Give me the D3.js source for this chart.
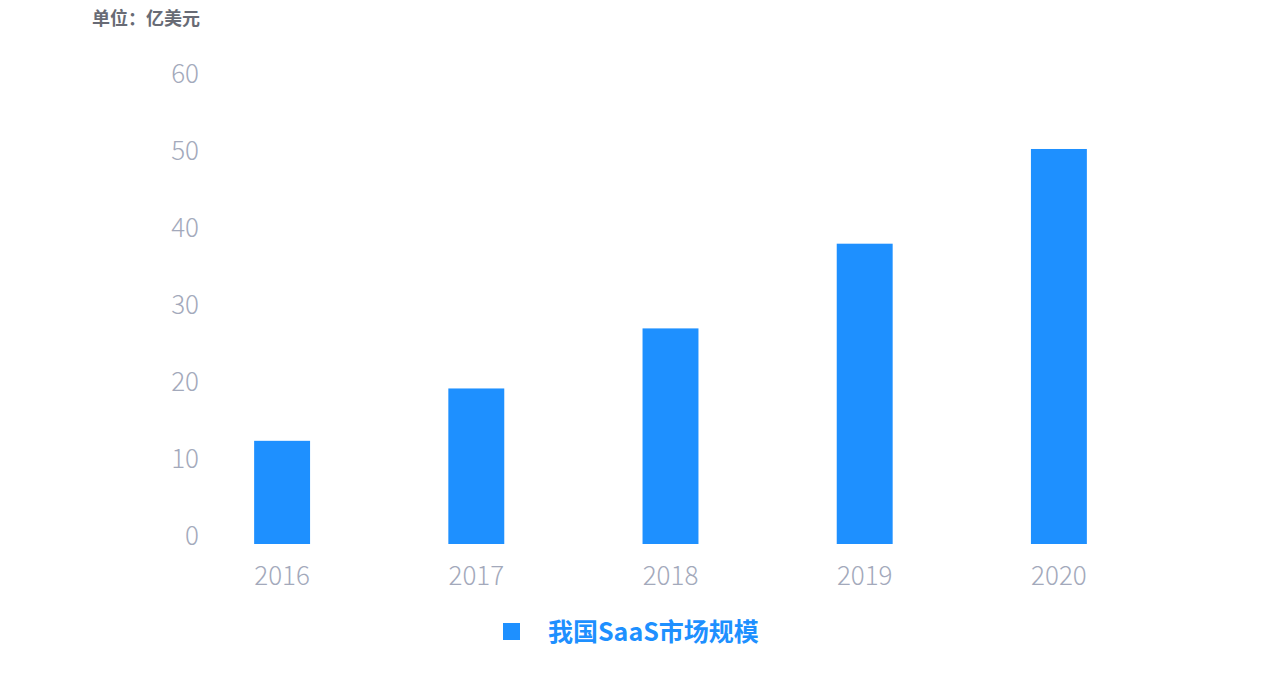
<!DOCTYPE html>
<html>
<head>
<meta charset="utf-8">
<script src="https://cdn.jsdelivr.net/npm/d3@7"></script>
<style>
  body { margin: 0; background: #fff; }
  svg { display: block; font-family: "Noto Sans CJK SC", "Noto Sans", sans-serif; }
</style>
</head>
<body>
<svg width="1265" height="689"></svg>
<script>
const years = ["2016", "2017", "2018", "2019", "2020"];
const marketSize = [13.4, 20.2, 28.0, 39.0, 51.3];
const yTicks = [0, 10, 20, 30, 40, 50, 60];
const unitLabel = "单位：亿美元";
const seriesName = "我国SaaS市场规模";

const svg = d3.select("svg");
const width = 1265;
const margin = {top: 82, bottom: 145, left: 185, right: 109};
const height = 689;
const barColor = "#1e90ff";
const tickColor = "#a3a9bb";

const data = years.map((y, i) => ({year: y, value: marketSize[i]}));

const xScale = d3.scaleBand()
    .domain(years)
    .range([margin.left, width - margin.right])
    .paddingInner(0.712)
    .paddingOuter(0.356);

const yScale = d3.scaleLinear()
    .domain([0, 60])
    .range([height - margin.bottom, margin.top]);

// unit label
svg.append("text")
    .attr("x", 92)
    .attr("y", 25)
    .attr("font-size", 18)
    .attr("font-weight", 700)
    .attr("fill", "#686b75")
    .text(unitLabel);

// bars
svg.selectAll(".bar")
    .data(data)
    .join("rect")
    .attr("class", "bar")
    .attr("x", d => xScale(d.year))
    .attr("y", d => yScale(d.value))
    .attr("width", xScale.bandwidth())
    .attr("height", d => yScale(0) - yScale(d.value))
    .attr("fill", barColor);

// y axis (labels only, text baseline sits on the tick)
const yAxis = svg.append("g")
    .attr("transform", `translate(199,0)`)
    .call(d3.axisLeft(yScale).tickValues(yTicks).tickSize(0).tickPadding(0));
yAxis.select(".domain").remove();
yAxis.selectAll("text")
    .attr("dy", 0)
    .attr("font-size", 26)
    .attr("font-weight", 300)
    .attr("font-family", "\"Noto Sans CJK SC\", sans-serif")
    .attr("fill", tickColor);

// x axis
const xAxis = svg.append("g")
    .attr("transform", `translate(0,${yScale(0)})`)
    .call(d3.axisBottom(xScale).tickSize(0).tickPadding(0));
xAxis.select(".domain").remove();
xAxis.selectAll("text")
    .attr("dy", 0)
    .attr("y", 41)
    .attr("font-size", 26)
    .attr("font-weight", 300)
    .attr("font-family", "\"Noto Sans CJK SC\", sans-serif")
    .attr("fill", tickColor);

// legend
const legend = svg.append("g").attr("transform", "translate(503,623)");
legend.append("rect")
    .attr("width", 17)
    .attr("height", 17)
    .attr("fill", barColor);
legend.append("text")
    .attr("x", 45)
    .attr("y", 18)
    .attr("font-size", 25)
    .attr("font-weight", 700)
    .attr("fill", barColor)
    .text(seriesName);
</script>
</body>
</html>
